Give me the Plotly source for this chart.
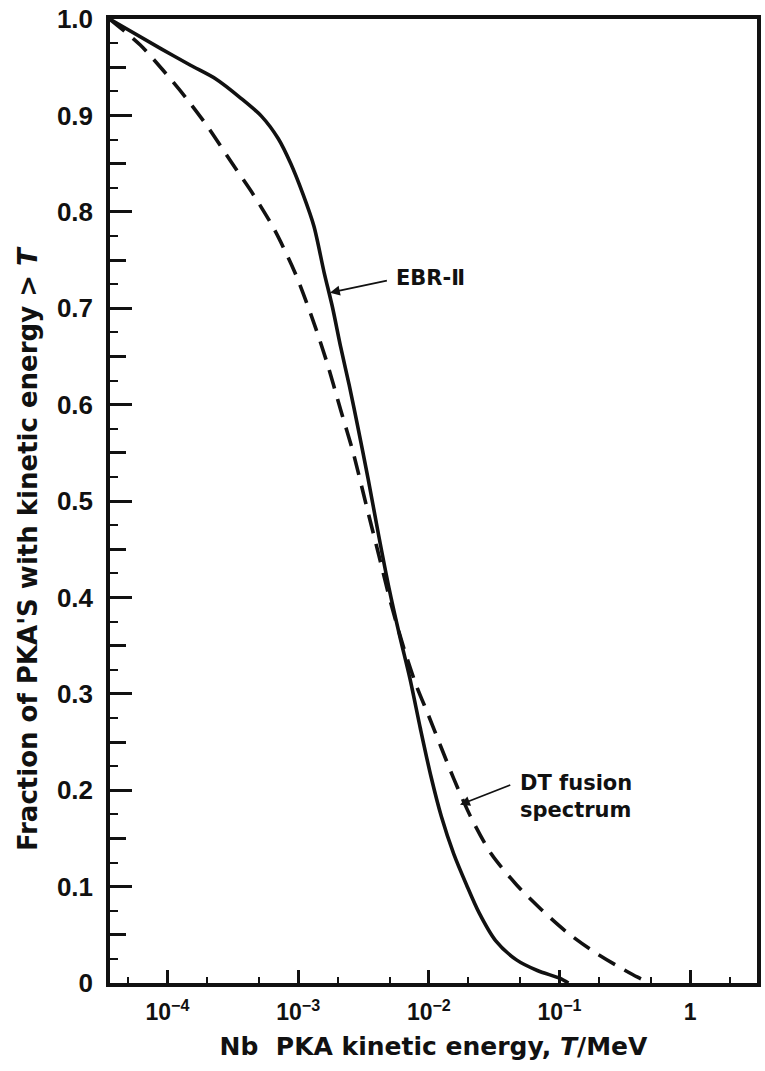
import math
import plotly.graph_objects as go

# PKA kinetic energy T (MeV) and fraction of PKAs with energy above T
ebr2_energy = [3.6e-5, 8.95e-5, 1.5e-4, 2.33e-4, 3.63e-4, 5.25e-4, 7.03e-4, 8.77e-4,
               1.09e-3, 1.32e-3, 1.58e-3, 1.83e-3, 2.12e-3, 2.46e-3, 2.85e-3, 3.43e-3,
               4.12e-3, 4.95e-3, 5.96e-3, 7.16e-3, 8.61e-3, 1.035e-2, 1.245e-2, 1.55e-2,
               1.94e-2, 2.42e-2, 3.24e-2, 4.68e-2, 6.76e-2, 0.1, 0.117]
ebr2_fraction = [1.0, 0.969, 0.952, 0.938, 0.918, 0.899, 0.876, 0.850,
                 0.818, 0.785, 0.737, 0.701, 0.659, 0.620, 0.578, 0.523,
                 0.465, 0.410, 0.361, 0.316, 0.264, 0.215, 0.173, 0.134,
                 0.102, 0.073, 0.044, 0.024, 0.013, 0.005, 0.0]

dt_energy = [3.6e-5, 6.19e-5, 9.64e-5, 1.39e-4, 2.01e-4, 3.13e-4, 4.53e-4, 6.55e-4,
             9.44e-4, 1.27e-3, 1.64e-3, 2.12e-3, 2.65e-3, 3.30e-3, 4.12e-3, 5.14e-3,
             6.41e-3, 8.0e-3, 9.98e-3, 1.245e-2, 1.55e-2, 2.08e-2, 3.0e-2, 4.68e-2,
             7.28e-2, 0.113, 0.176, 0.274, 0.396, 0.494]
dt_fraction = [1.0, 0.973, 0.944, 0.918, 0.889, 0.850, 0.818, 0.782,
               0.737, 0.691, 0.646, 0.594, 0.549, 0.497, 0.445, 0.393,
               0.348, 0.309, 0.277, 0.244, 0.212, 0.173, 0.134, 0.102,
               0.076, 0.053, 0.034, 0.018, 0.006, 0.0]

x_major = [1e-4, 1e-3, 1e-2, 1e-1, 1]
x_major_text = ["10<sup>−4</sup>", "10<sup>−3</sup>", "10<sup>−2</sup>", "10<sup>−1</sup>", "1"]
x_minor = [5e-5, 2e-4, 5e-4, 2e-3, 5e-3, 2e-2, 5e-2, 2e-1, 5e-1, 2]
y_major = [0, 0.1, 0.2, 0.3, 0.4, 0.5, 0.6, 0.7, 0.8, 0.9, 1.0]
y_major_text = ["0", "0.1", "0.2", "0.3", "0.4", "0.5", "0.6", "0.7", "0.8", "0.9", "1.0"]
y_half = [0.05, 0.15, 0.25, 0.35, 0.45, 0.55, 0.65, 0.75, 0.85, 0.95]

INK = "#111111"
TICK_FONT = "Liberation Sans"
TEXT_FONT = "DejaVu Sans"

fig = go.Figure()
fig.add_trace(go.Scatter(x=ebr2_energy, y=ebr2_fraction, mode="lines",
                         line=dict(color=INK, width=3.6, shape="spline", smoothing=0.8),
                         showlegend=False, hoverinfo="skip"))
fig.add_trace(go.Scatter(x=dt_energy, y=dt_fraction, mode="lines",
                         line=dict(color=INK, width=3.6, dash="19px,11px", shape="spline", smoothing=0.8),
                         showlegend=False, hoverinfo="skip"))
# empty trace so the half-step tick axis is drawn
fig.add_trace(go.Scatter(x=[], y=[], yaxis="y2", showlegend=False, hoverinfo="skip"))

lg = math.log10
label_font = dict(family=TEXT_FONT, size=21, color=INK, weight="bold")
annotations = [
    dict(x=lg(0.0054), y=0.731, xref="x", yref="y", text="EBR-Ⅱ", showarrow=False,
         xanchor="left", yanchor="middle", font=label_font),
    dict(x=lg(1.75e-3), y=0.716, xref="x", yref="y", ax=lg(0.0049), ay=0.729,
         axref="x", ayref="y", text="", showarrow=True, arrowhead=2, arrowsize=1.1,
         arrowwidth=1.8, arrowcolor=INK),
    dict(x=lg(0.0484), y=0.193, xref="x", yref="y", text="DT fusion<br>spectrum",
         showarrow=False, xanchor="left", yanchor="middle", align="left",
         font=label_font),
    dict(x=lg(0.0173), y=0.185, xref="x", yref="y", ax=lg(0.0431), ay=0.206,
         axref="x", ayref="y", text="", showarrow=True, arrowhead=2, arrowsize=1.1,
         arrowwidth=1.8, arrowcolor=INK),
    # vertical axis title
    dict(x=-0.127, y=0.451, xref="paper", yref="paper", textangle=-90,
         text="Fraction of PKA'S with kinetic energy > <i>T</i>", showarrow=False,
         xanchor="center", yanchor="middle",
         font=dict(family=TEXT_FONT, size=26, color=INK, weight="bold")),
]

fig.update_layout(
    width=765, height=1071,
    margin=dict(l=110, r=4, t=17, b=88),
    paper_bgcolor="white", plot_bgcolor="white",
    font=dict(family=TEXT_FONT, color=INK),
    annotations=annotations,
    xaxis=dict(
        type="log", range=[-4.44, 0.511],
        tickmode="array", tickvals=x_major, ticktext=x_major_text,
        ticks="inside", ticklen=13, tickwidth=2.5, tickcolor=INK,
        minor=dict(tickmode="array", tickvals=x_minor, ticks="inside", ticklen=6,
                   tickwidth=2, tickcolor=INK, showgrid=False),
        tickfont=dict(family=TICK_FONT, size=23, color=INK, weight="bold"),
        ticklabelstandoff=6,
        showline=True, linewidth=3.5, linecolor=INK, mirror=True,
        showgrid=False, zeroline=False,
        title=dict(text="Nb  PKA kinetic energy, <i>T</i>/MeV",
                   font=dict(family=TEXT_FONT, size=25, color=INK, weight="bold"), standoff=14),
    ),
    yaxis=dict(
        range=[0, 1], tickmode="array", tickvals=y_major, ticktext=y_major_text,
        ticks="inside", ticklen=22, tickwidth=2.5, tickcolor=INK,
        minor=dict(dtick=0.025, tick0=0, ticks="inside", ticklen=8, tickwidth=2,
                   tickcolor=INK, showgrid=False),
        tickfont=dict(family=TICK_FONT, size=26, color=INK, weight="bold"),
        ticklabelstandoff=8,
        showline=True, linewidth=3.5, linecolor=INK, mirror=True,
        showgrid=False, zeroline=False,
    ),
    yaxis2=dict(
        overlaying="y", side="left", range=[0, 1],
        tickmode="array", tickvals=y_half, ticks="inside", ticklen=16, tickwidth=2.5,
        tickcolor=INK, showticklabels=False, showline=False, showgrid=False,
        zeroline=False,
    ),
)

fig.write_html("out.html")
